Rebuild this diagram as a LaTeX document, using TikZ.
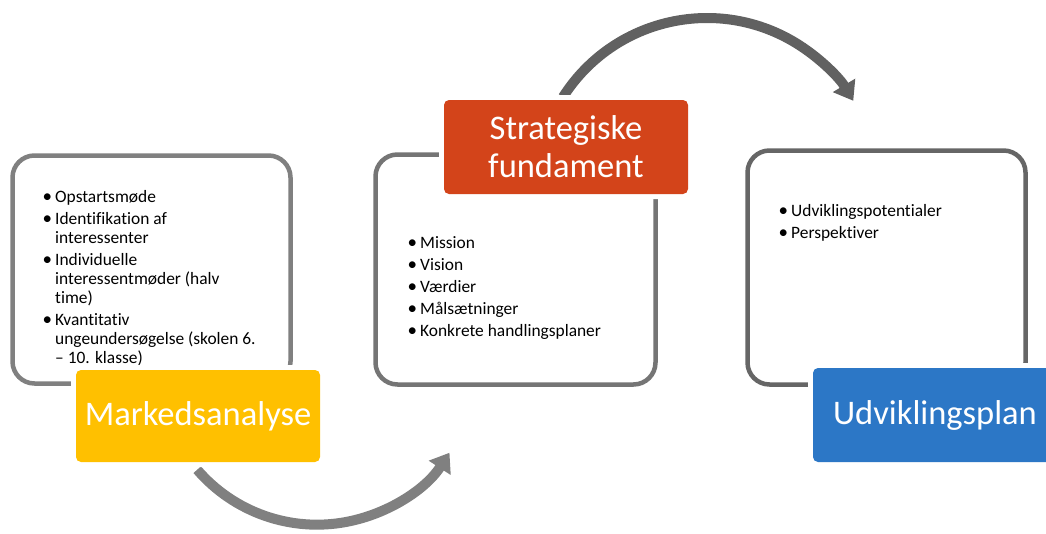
\documentclass[tikz,border=0pt]{standalone}
\usepackage{fontspec}
\setmainfont{Carlito}[Ligatures=NoCommon]
\usetikzlibrary{arrows.meta}
\definecolor{markgul}{HTML}{FFC000}
\definecolor{stratrod}{HTML}{D3441A}
\definecolor{planblaa}{HTML}{2C77C6}
\newcommand{\pkt}{\makebox[11pt][l]{\hspace*{-1.5pt}\raisebox{-0.3pt}{\fontsize{19}{19}\selectfont•}}}
\newcommand{\ind}{\hspace*{11pt}}

\begin{document}
\begin{tikzpicture}[x=1pt,y=-1pt,
  panel/.style={draw=#1, line width=4.5pt, rounded corners=22pt, inner sep=0pt, outer sep=0pt},
  titel/.style={fill=#1, text=white, rounded corners=5pt, inner sep=0pt, minimum width=244pt, align=center, font=\fontsize{34.5}{38}\selectfont, preaction={draw=white, line width=10pt}},
  liste/.style={anchor=north west, inner sep=0pt, align=left, font=\fontsize{17.4}{19}\selectfont},
  flow/.style={draw=#1, line width=10pt, -{Triangle[length=18pt,width=25pt]}}]
  \clip (0,0) rectangle (1046,533);
  \fill[white] (0,0) rectangle (1046,533);
  \coordinate (pil1) at (197.2,469.7);
  \coordinate (pil2) at (563,97);
  \draw[flow=gray!100] (pil1) arc[start angle=139.3, end angle=33, radius=158];
  \draw[flow=black!62] (pil2) arc[start angle=212.5, end angle=329, radius=170.7];
  \node[panel=black!50, minimum width=278pt, minimum height=228pt] (mpanel) at (151.5,269.5) {};
  \node[panel=black!54, minimum width=280pt, minimum height=230pt] (spanel) at (515.5,269.5) {};
  \node[panel=black!60, minimum width=278pt, minimum height=234pt] (upanel) at (886.5,267.5) {};
  \node[liste] (mliste) at (44,190) {\pkt Opstartsmøde\\[3pt]
    \pkt Identifikation af\\ \ind interessenter\\[3pt]
    \pkt Individuelle\\ \ind interessentmøder (halv\\ \ind time)\\[3pt]
    \pkt Kvantitativ\\ \ind ungeundersøgelse (skolen 6.\\ \ind – 10. klasse)};
  \node[liste] (sliste) at (409,236.5) {\pkt Mission\\[3pt] \pkt Vision\\[3pt] \pkt Værdier\\[3pt]
    \pkt Målsætninger\\[3pt] \pkt Konkrete handlingsplaner};
  \node[liste] (uliste) at (780,204) {\pkt Udviklingspotentialer\\[3pt] \pkt Perspektiver};
  \node[titel=markgul, minimum height=92pt] (marked) at (198,416) {Markedsanalyse};
  \node[titel=stratrod, minimum height=94pt] (strat) at (566,147) {Strategiske\\fundament};
  \node[titel=planblaa, minimum height=94pt] (plan) at (935,415) {Udviklingsplan};
\end{tikzpicture}
\end{document}
